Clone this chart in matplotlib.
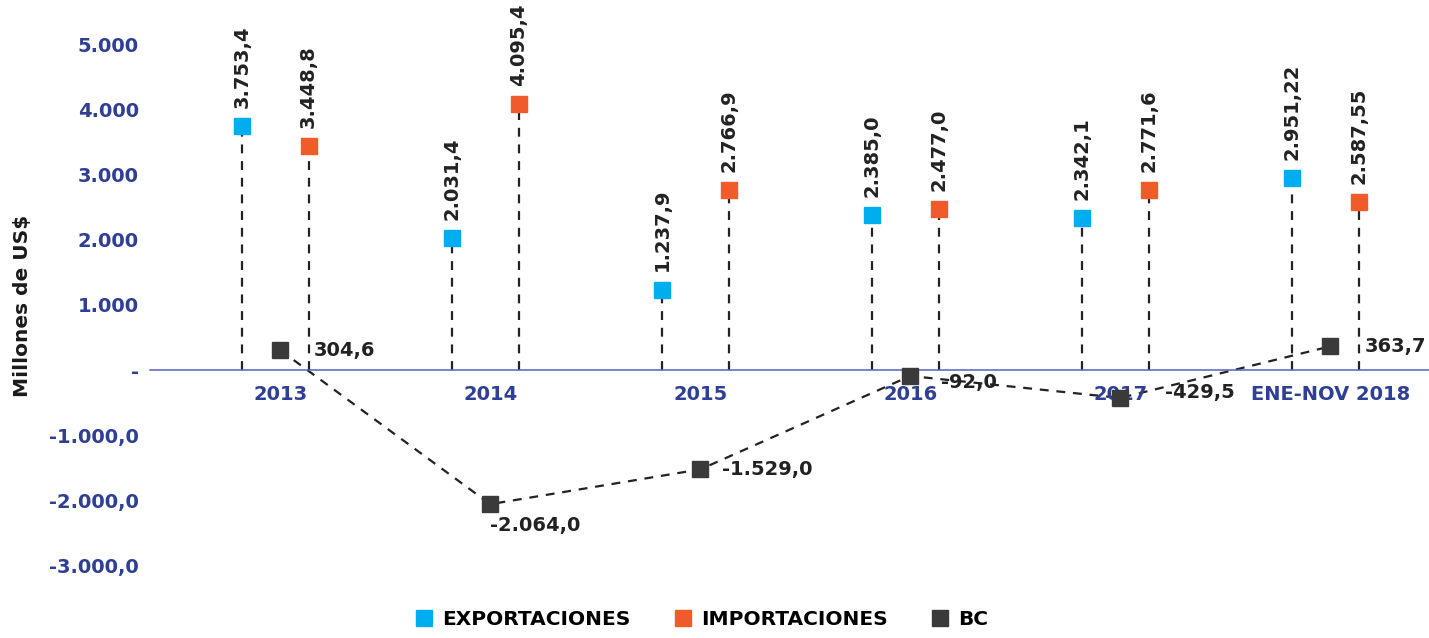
import numpy as np
import matplotlib.pyplot as plt
from matplotlib.lines import Line2D

plt.rcParams['font.family'] = ['DejaVu Sans']

# datos
categorias = ['2013', '2014', '2015', '2016', '2017', 'ENE-NOV 2018']
exportaciones = [3753.4, 2031.4, 1237.9, 2385.0, 2342.1, 2951.22]
importaciones = [3448.8, 4095.4, 2766.9, 2477.0, 2771.6, 2587.55]
bc = [304.6, -2064.0, -1529.0, -92.0, -429.5, 363.7]
etq_exp = ['3.753,4', '2.031,4', '1.237,9', '2.385,0', '2.342,1', '2.951,22']
etq_imp = ['3.448,8', '4.095,4', '2.766,9', '2.477,0', '2.771,6', '2.587,55']
etq_bc = ['304,6', '-2.064,0', '-1.529,0', '-92,0', '-429,5', '363,7']
yticks = [-3000, -2000, -1000, 0, 1000, 2000, 3000, 4000, 5000]
ytick_labels = ['-3.000,0', '-2.000,0', '-1.000,0', '-', '1.000', '2.000', '3.000', '4.000', '5.000']

c_exp = '#00AEEF'
c_imp = '#F15A29'
c_bc = '#3A3A3A'
azul = '#2E3F94'

fig = plt.figure(figsize=(14.29, 6.38), dpi=100)
ax = fig.add_axes([0.105, 0.1144, 0.895, 0.8151])

# eje x en el cero (antes de poner las etiquetas, porque reinicia los ticks)
for s in ['top', 'right', 'left']:
    ax.spines[s].set_visible(False)
ax.spines['bottom'].set_position(('data', 0))
ax.spines['bottom'].set_color('#5563B8')
ax.spines['bottom'].set_linewidth(1.1)

x = np.arange(len(categorias))
x_exp = x - 0.18
x_imp = x + 0.135

dash = (0, (4, 3.5))
ax.vlines(x_exp, 0, exportaciones, colors='#222222', linestyles=dash, lw=1.6, zorder=1)
ax.vlines(x_imp, 0, importaciones, colors='#222222', linestyles=dash, lw=1.6, zorder=1)
ax.plot(x, bc, color='#222222', ls=dash, lw=1.6, zorder=1)

ax.plot(x_exp, exportaciones, 's', color=c_exp, ms=11, ls='none', zorder=3)
ax.plot(x_imp, importaciones, 's', color=c_imp, ms=11, ls='none', zorder=3)
ax.plot(x, bc, 's', color=c_bc, ms=11, ls='none', zorder=3)

# etiquetas de valores
for xi, v, t in zip(x_exp, exportaciones, etq_exp):
    ax.annotate(t, (xi, v), xytext=(0, 13), textcoords='offset points', rotation=90,
                ha='center', va='bottom', fontsize=14, fontweight='bold', color='#222222')
for xi, v, t in zip(x_imp, importaciones, etq_imp):
    ax.annotate(t, (xi, v), xytext=(0, 13), textcoords='offset points', rotation=90,
                ha='center', va='bottom', fontsize=14, fontweight='bold', color='#222222')

offs_bc = [(24, 0), (0, -15), (16, 0), (22, -5), (32, 4), (25, 0)]
for xi, v, t, o in zip(x, bc, etq_bc, offs_bc):
    ax.annotate(t, (xi, v), xytext=o, textcoords='offset points',
                ha='left', va='center', fontsize=14, fontweight='bold', color='#222222',
                zorder=4)

ax.set_xlim(-0.62, 5.47)
ax.set_ylim(-3000, 5000)
ax.set_yticks(yticks)
ax.set_yticklabels(ytick_labels, fontsize=14, fontweight='bold', color=azul)
ax.set_xticks(x)
ax.set_xticklabels(categorias, fontsize=14, fontweight='bold', color=azul)
ax.tick_params(axis='both', length=0)
ax.tick_params(axis='x', pad=11)
ax.tick_params(axis='y', pad=8)

fig.text(0.016, 0.52, 'Millones de US$', rotation=90, ha='center', va='center',
         fontsize=14.5, fontweight='bold', color='#1a1a1a')

handles = [Line2D([], [], marker='s', color=c, ls='none', ms=11) for c in (c_exp, c_imp, c_bc)]
fig.legend(handles, ['EXPORTACIONES', 'IMPORTACIONES', 'BC'], loc='lower center',
           bbox_to_anchor=(0.49, -0.014), ncol=3, frameon=False, handletextpad=0.3,
           handlelength=1.2, columnspacing=2.0, prop={'weight': 'bold', 'size': 14.5})

plt.savefig('out.png', dpi=100)
